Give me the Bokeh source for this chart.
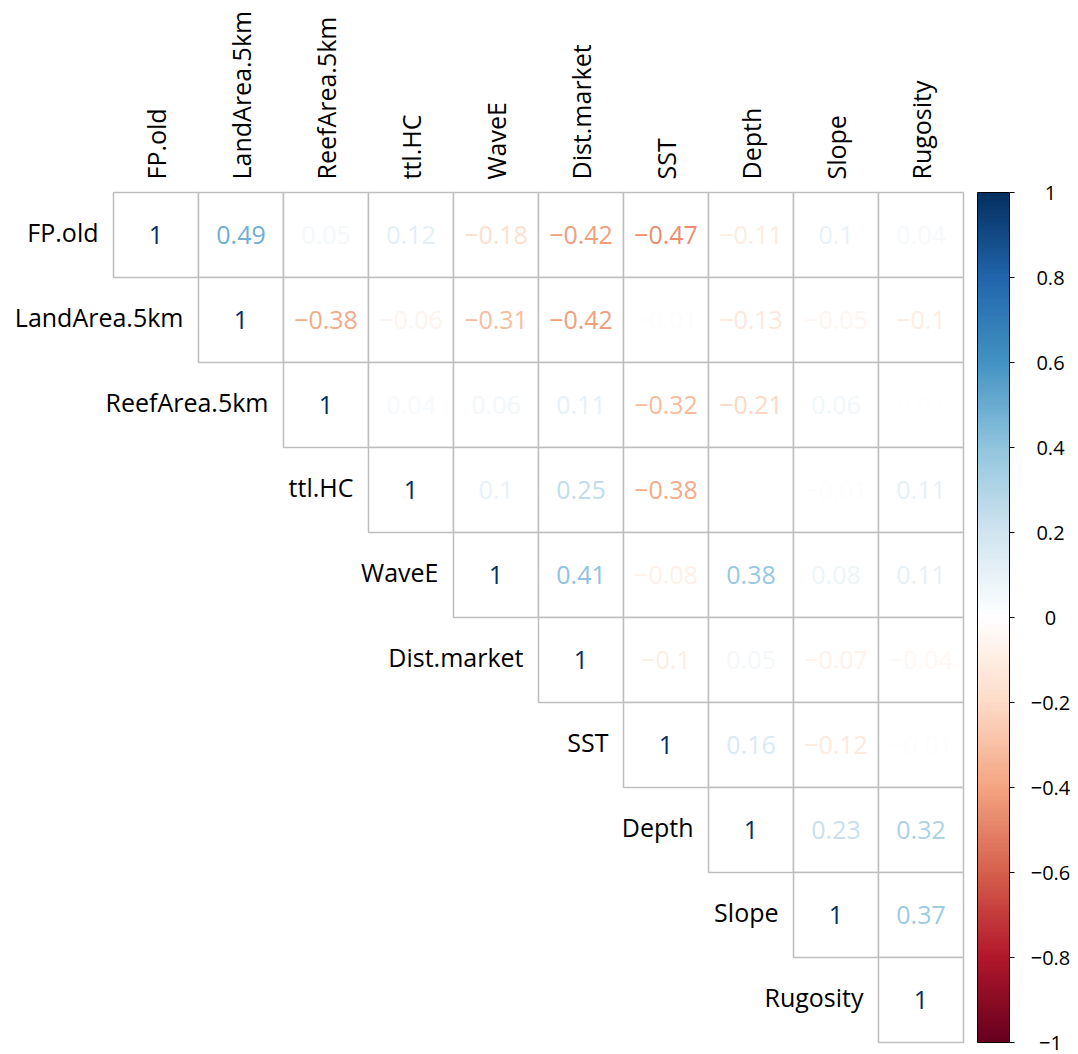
import numpy as np
from bokeh.plotting import figure
from bokeh.models import (ColumnDataSource, Range1d, LinearColorMapper, ColorBar,
                          FixedTicker)
from bokeh.core.properties import value
from bokeh.embed import file_html
from bokeh.resources import INLINE

# ---------------- data ----------------
variables = ["FP.old", "LandArea.5km", "ReefArea.5km", "ttl.HC", "WaveE",
             "Dist.market", "SST", "Depth", "Slope", "Rugosity"]

# upper-triangle correlations, row by row (diagonal first)
row_FP_old      = [1, 0.49, 0.05, 0.12, -0.18, -0.42, -0.47, -0.11, 0.10, 0.04]
row_LandArea    = [1, -0.38, -0.06, -0.31, -0.42, -0.01, -0.13, -0.05, -0.10]
row_ReefArea    = [1, 0.04, 0.06, 0.11, -0.32, -0.21, 0.06, 0.01]
row_ttl_HC      = [1, 0.10, 0.25, -0.38, 0, -0.01, 0.11]
row_WaveE       = [1, 0.41, -0.08, 0.38, 0.08, 0.11]
row_Dist_market = [1, -0.10, 0.05, -0.07, -0.04]
row_SST         = [1, 0.16, -0.12, -0.01]
row_Depth       = [1, 0.23, 0.32]
row_Slope       = [1, 0.37]
row_Rugosity    = [1]
rows = [row_FP_old, row_LandArea, row_ReefArea, row_ttl_HC, row_WaveE,
        row_Dist_market, row_SST, row_Depth, row_Slope, row_Rugosity]

cb_ticks = [-1, -0.8, -0.6, -0.4, -0.2, 0, 0.2, 0.4, 0.6, 0.8, 1]

# ---------------- colours ----------------
rdbu = ["#67001F", "#B2182B", "#D6604D", "#F4A582", "#FDDBC7", "#FFFFFF",
        "#D1E5F0", "#92C5DE", "#4393C3", "#2166AC", "#053061"]
rgb = np.array([[int(c[i:i + 2], 16) for i in (1, 3, 5)] for c in rdbu], float)
stops = np.linspace(-1, 1, len(rdbu))


def col_of(v):
    r, g, b = (np.interp(v, stops, rgb[:, k]) for k in range(3))
    return "#%02x%02x%02x" % (int(round(r)), int(round(g)), int(round(b)))


palette = [col_of(v) for v in np.linspace(-1, 1, 200)]


def fmt(v):
    s = f"{v:g}"
    return s.replace("-", "\u2212")


n = len(variables)
cx, cy, lab, cols = [], [], [], []
for i, r in enumerate(rows):
    for k, v in enumerate(r):
        j = i + k
        cx.append(j + 0.5)
        cy.append(n - i - 0.5)
        lab.append(fmt(v))
        cols.append(col_of(v))
cells = ColumnDataSource(dict(x=cx, y=cy, t=lab, c=cols))

# ---------------- layout (pixels) ----------------
W, H = 1078, 1054
CELL = 85.0
LEFT = 113.0   # canvas x of grid's left edge
TOP = 192.0    # canvas y of grid's top edge

p = figure(width=W, height=H, output_backend="svg", toolbar_location=None,
           x_range=Range1d(-LEFT / CELL, (W - LEFT) / CELL),
           y_range=Range1d(n - (H - TOP) / CELL, n + TOP / CELL),
           min_border=0)
p.axis.visible = False
p.grid.visible = False
p.outline_line_color = None
p.background_fill_color = "white"

p.rect(x="x", y="y", width=1, height=1, source=cells, fill_color="white",
       line_color="#BEBEBE", line_width=1.5)
p.text(x="x", y="y", text="t", source=cells, text_color="c",
       text_font=value("Open Sans"), text_font_size="25px",
       text_align="center", text_baseline="middle")

# row labels (left of diagonal)
rl = ColumnDataSource(dict(x=[i - 15 / CELL for i in range(n)],
                           y=[n - i - 0.5 + 3 / CELL for i in range(n)],
                           t=variables))
p.text(x="x", y="y", text="t", source=rl, text_color="black",
       text_font=value("Open Sans"), text_font_size="25px",
       text_align="right", text_baseline="middle")

# column labels (top, rotated)
cl = ColumnDataSource(dict(x=[j + 0.5 for j in range(n)],
                           y=[n + 13 / CELL] * n, t=variables))
p.text(x="x", y="y", text="t", source=cl, text_color="black", angle=np.pi / 2,
       text_font=value("Open Sans"), text_font_size="25px",
       text_align="left", text_baseline="middle")

# colour bar
mapper = LinearColorMapper(palette=palette, low=-1, high=1)
BAR_X = 977.0
BAR_W = 32
BAR_BOTTOM = 12.0
BAR_H = 850
cb = ColorBar(color_mapper=mapper, location=(BAR_X, BAR_BOTTOM),
              width=BAR_W, height=BAR_H, padding=0, margin=0,
              ticker=FixedTicker(ticks=cb_ticks),
              major_tick_in=0, major_tick_out=5, major_tick_line_color="black",
              minor_tick_line_color=None,
              bar_line_color="black", bar_line_width=1,
              major_label_text_alpha=0,
              border_line_color=None, background_fill_alpha=0)
p.add_layout(cb, "center")

# colour bar labels, through a range matching the bar
per = 2.0 / BAR_H
p.extra_y_ranges = {"cb": Range1d(-1 - BAR_BOTTOM * per,
                                  -1 - BAR_BOTTOM * per + H * per)}
cbl = ColumnDataSource(dict(x=[(1050 - LEFT) / CELL] * len(cb_ticks),
                            y=cb_ticks, t=[fmt(t) for t in cb_ticks]))
p.text(x="x", y="y", text="t", source=cbl, y_range_name="cb",
       text_color="black", text_font=value("Open Sans"),
       text_font_size="20px", text_align="center", text_baseline="middle")

open("out.html", "w").write(file_html(p, INLINE))
